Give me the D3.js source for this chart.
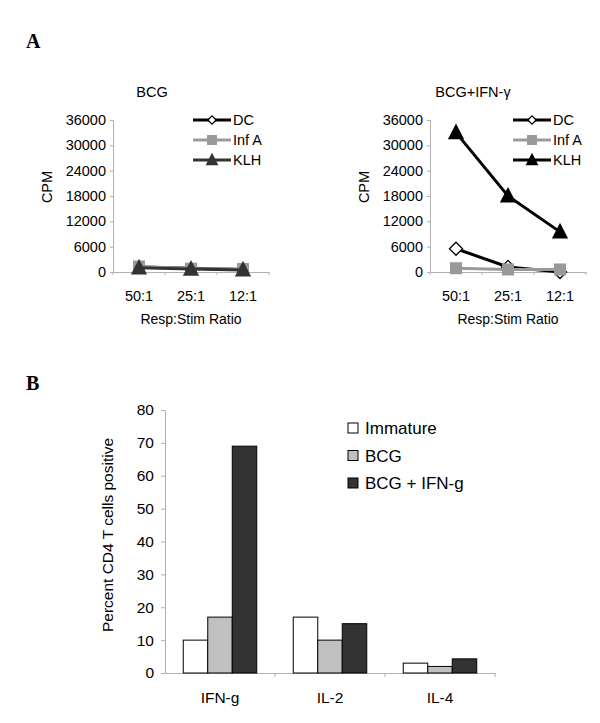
<!DOCTYPE html>
<html>
<head>
<meta charset="utf-8">
<script src="https://cdn.jsdelivr.net/npm/d3@7"></script>
<style>
  body { margin: 0; background: #fff; }
  svg { font-family: "Liberation Sans", Arial, sans-serif; }
</style>
</head>
<body>
<svg id="fig" width="600" height="723"></svg>
<script>
// panel A data
var ratios = ["50:1", "25:1", "12:1"];
var cpmTicks = [0, 6000, 12000, 18000, 24000, 30000, 36000];
var lineSeries = ["DC", "Inf A", "KLH"];
var bcgDC = [1200, 900, 600];
var bcgInfA = [1300, 800, 700];
var bcgKLH = [1000, 700, 500];
var ifnDC = [5500, 1200, 0];
var ifnInfA = [900, 600, 600];
var ifnKLH = [33000, 18000, 9500];

// panel B data
var cytokines = ["IFN-g", "IL-2", "IL-4"];
var groups = ["Immature", "BCG", "BCG + IFN-g"];
var immature = [10, 17, 3];
var bcg = [17, 10, 2];
var bcgIfn = [69, 15, 4.3];
var pctTicks = [0, 10, 20, 30, 40, 50, 60, 70, 80];

var svg = d3.select("#fig");
var axisGray = "#b0b0b0";

// panel letters
svg.append("text").attr("x", 26).attr("y", 48)
  .style("font-family", "'Liberation Serif', 'Times New Roman', serif")
  .style("font-weight", "bold").style("font-size", "20px").text("A");
svg.append("text").attr("x", 26).attr("y", 390)
  .style("font-family", "'Liberation Serif', 'Times New Roman', serif")
  .style("font-weight", "bold").style("font-size", "20px").text("B");

var seriesStyle = {
  "DC": { marker: "diamond" },
  "Inf A": { marker: "square" },
  "KLH": { marker: "triangle" }
};

function marker(g, type, x, y, size, fill) {
  if (type == "diamond") {
    g.append("path")
      .attr("d", d3.symbol(d3.symbolDiamond2, size * size * 0.9)())
      .attr("transform", "translate(" + x + "," + y + ")")
      .attr("fill", "#fff").attr("stroke", "#000").attr("stroke-width", 1.3);
  } else if (type == "square") {
    g.append("rect").attr("x", x - size / 2).attr("y", y - size / 2)
      .attr("width", size).attr("height", size).attr("fill", fill);
  } else {
    var h = size * 1.05;
    g.append("path")
      .attr("d", "M" + x + "," + (y - h * 0.62) + "L" + (x + size * 0.58) + "," + (y + h * 0.45) +
        "L" + (x - size * 0.58) + "," + (y + h * 0.45) + "Z")
      .attr("fill", fill);
  }
}

function lineChart(opts) {
  var g = svg.append("g");
  var x = d3.scaleBand().domain(ratios).range([opts.x0, opts.x1]);
  var y = d3.scaleLinear().domain([0, 36000]).range([272, 120]);

  var yAxis = g.append("g").attr("transform", "translate(" + opts.x0 + ",0)")
    .call(d3.axisLeft(y).tickValues(cpmTicks).tickSize(3).tickPadding(4).tickFormat(d3.format("d")));
  var xAxis = g.append("g").attr("transform", "translate(0,272)")
    .call(d3.axisBottom(x).tickSize(0).tickPadding(19));
  [yAxis, xAxis].forEach(function (a) {
    a.select(".domain").attr("stroke", axisGray);
    a.selectAll(".tick line").attr("stroke", axisGray);
    a.selectAll("text").attr("fill", "#000").style("font-size", "14.5px")
      .style("font-family", "'Liberation Sans', Arial, sans-serif");
  });
  // category boundary ticks
  g.selectAll(".bt").data(ratios.concat(["end"])).enter().append("line")
    .attr("x1", function (d, i) { return opts.x0 + i * x.bandwidth(); })
    .attr("x2", function (d, i) { return opts.x0 + i * x.bandwidth(); })
    .attr("y1", 272).attr("y2", 275).attr("stroke", axisGray);

  g.append("text").attr("x", opts.tx).attr("y", 97)
    .attr("text-anchor", "middle").style("font-size", "14.5px").text(opts.title);
  g.append("text").attr("x", (opts.x0 + opts.x1) / 2).attr("y", 324)
    .attr("text-anchor", "middle").style("font-size", "14px").text("Resp:Stim Ratio");
  g.append("text").attr("transform", "translate(" + (opts.x0 - 61) + ",187) rotate(-90)")
    .attr("text-anchor", "middle").style("font-size", "14.5px").text("CPM");

  var line = d3.line()
    .x(function (d, i) { return x(ratios[i]) + x.bandwidth() / 2; })
    .y(function (d) { return y(d); });

  opts.data.forEach(function (vals, k) {
    var st = seriesStyle[lineSeries[k]];
    var col = opts.colors[k];
    g.append("path").datum(vals).attr("d", line).attr("fill", "none")
      .attr("stroke", col).attr("stroke-width", 3);
    vals.forEach(function (v, i) {
      marker(g, st.marker, x(ratios[i]) + x.bandwidth() / 2, y(v), opts.sizes[k], col);
    });
  });

  // legend
  lineSeries.forEach(function (s, k) {
    var ly = 120 + k * 20;
    var st = seriesStyle[s];
    g.append("line").attr("x1", opts.lx).attr("x2", opts.lx + 38)
      .attr("y1", ly).attr("y2", ly).attr("stroke", opts.colors[k]).attr("stroke-width", 3);
    marker(g, st.marker, opts.lx + 19, ly, [7, 10, 11][k], opts.colors[k]);
    g.append("text").attr("x", opts.lx + 40).attr("y", ly + 5)
      .style("font-size", "14.5px").text(s);
  });
}

lineChart({
  title: "BCG", x0: 113, x1: 269, lx: 193, tx: 152,
  data: [bcgDC, bcgInfA, bcgKLH],
  colors: ["#000", "#999", "#333"],
  sizes: [8, 12, 14]
});
lineChart({
  title: "BCG+IFN-\u03b3", x0: 430, x1: 586, lx: 513, tx: 473,
  data: [ifnDC, ifnInfA, ifnKLH],
  colors: ["#000", "#999", "#000"],
  sizes: [11, 12, 14]
});

// panel B bar chart
var gb = svg.append("g");
var xb = d3.scaleBand().domain(cytokines).range([165, 495]);
var xs = d3.scaleBand().domain(groups).range([0, 73.5]);
var yb = d3.scaleLinear().domain([0, 80]).range([673, 410]);

var yAx = gb.append("g").attr("transform", "translate(165,0)")
  .call(d3.axisLeft(yb).tickValues(pctTicks).tickSize(4).tickPadding(7));
var xAx = gb.append("g").attr("transform", "translate(0,673)")
  .call(d3.axisBottom(xb).tickSize(0).tickPadding(19));
[yAx, xAx].forEach(function (a) {
  a.select(".domain").attr("stroke", axisGray);
  a.selectAll(".tick line").attr("stroke", axisGray);
  a.selectAll("text").attr("fill", "#000").style("font-size", "15.5px")
    .style("font-family", "'Liberation Sans', Arial, sans-serif");
});
gb.selectAll(".bt").data(cytokines).enter().append("line")
  .attr("x1", function (d) { return xb(d) + xb.bandwidth(); })
  .attr("x2", function (d) { return xb(d) + xb.bandwidth(); })
  .attr("y1", 673).attr("y2", 677).attr("stroke", axisGray);

gb.append("text").attr("transform", "translate(113,535) rotate(-90)")
  .attr("text-anchor", "middle").style("font-size", "15.5px").text("Percent CD4 T cells positive");

var barColors = ["#fff", "#c0c0c0", "#333"];
var barData = [immature, bcg, bcgIfn];
barData.forEach(function (vals, k) {
  gb.selectAll(".b" + k).data(vals).enter().append("rect")
    .attr("x", function (d, i) { return xb(cytokines[i]) + (xb.bandwidth() - 73.5) / 2 + xs(groups[k]); })
    .attr("y", function (d) { return yb(d); })
    .attr("width", xs.bandwidth())
    .attr("height", function (d) { return 673 - yb(d); })
    .attr("fill", barColors[k]).attr("stroke", "#000").attr("stroke-width", 1);
});

groups.forEach(function (s, k) {
  var ly = 428 + k * 27.5;
  gb.append("rect").attr("x", 348).attr("y", ly - 5).attr("width", 10).attr("height", 10)
    .attr("fill", barColors[k]).attr("stroke", "#000").attr("stroke-width", 1);
  gb.append("text").attr("x", 365).attr("y", ly + 6).style("font-size", "17px").text(s);
});
</script>
</body>
</html>
